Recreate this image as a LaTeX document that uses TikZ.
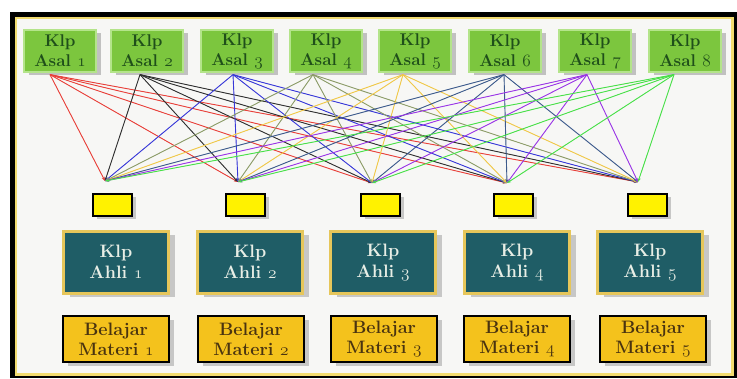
\documentclass[tikz,border=0pt]{standalone}
\usetikzlibrary{shadows,arrows.meta}
\newcommand{\osn}[1]{{\fontencoding{OML}\fontfamily{lmm}\fontseries{b}\fontshape{it}\selectfont #1}}
\definecolor{bgc}{HTML}{F7F7F5}
\definecolor{frameY}{HTML}{F2DC70}
\definecolor{asalfill}{HTML}{7CC63E}
\definecolor{asaledge}{HTML}{B4E48A}
\definecolor{asaltext}{HTML}{1F4F1A}
\definecolor{ahlifill}{HTML}{1F5D66}
\definecolor{ahliedge}{HTML}{E6C65A}
\definecolor{ahlitext}{HTML}{E8EEE6}
\definecolor{smallY}{HTML}{FFF200}
\definecolor{matfill}{HTML}{F4C21C}
\definecolor{mattext}{HTML}{4A3410}
\definecolor{c1}{HTML}{E8403A}
\definecolor{c2}{HTML}{303030}
\definecolor{c3}{HTML}{3838D8}
\definecolor{c4}{HTML}{8C9C68}
\definecolor{c5}{HTML}{F0C848}
\definecolor{c6}{HTML}{3C5A8C}
\definecolor{c7}{HTML}{9A36E6}
\definecolor{c8}{HTML}{48E048}
\tikzset{
  asal/.style={draw=asaledge, line width=1.2pt, fill=asalfill, minimum width=72pt, minimum height=42pt,
    inner sep=0pt, align=center, text=asaltext, font=\fontsize{17}{20}\selectfont\bfseries,
    drop shadow={opacity=0.45, shadow xshift=5pt, shadow yshift=-3pt}},
  smallbox/.style={draw=black, line width=2pt, fill=smallY, minimum width=39pt, minimum height=22pt,
    inner sep=0pt, drop shadow={opacity=0.4, shadow xshift=4pt, shadow yshift=-3pt}},
  ahli/.style={draw=ahliedge, line width=3pt, fill=ahlifill, minimum width=105pt, minimum height=62pt,
    inner sep=0pt, align=center, text=ahlitext, font=\fontsize{18}{21}\selectfont\bfseries,
    drop shadow={opacity=0.4, shadow xshift=6pt, shadow yshift=-4pt}},
  mat/.style={draw=black, line width=2pt, fill=matfill, minimum width=106pt, minimum height=46pt,
    inner sep=0pt, align=center, text=mattext, font=\fontsize{18}{20}\selectfont\bfseries,
    drop shadow={opacity=0.4, shadow xshift=5pt, shadow yshift=-4pt}},
  link/.style={line width=0.9pt, -{Stealth[length=4pt,width=3pt]}},
}
\begin{document}
\begin{tikzpicture}[x=1pt,y=-1pt]
\useasboundingbox (0,0) rectangle (737,378);
\fill[white] (0,0) rectangle (737,378);
% frame
\fill[black] (10,12) rectangle (737,378);
\fill[frameY] (15,17) rectangle (734,376);
\fill[bgc] (17,19) rectangle (731,373);
% top nodes
\node[asal] (a1) at (60,51) {Klp\\Asal \osn{1}};
\node[asal] (a2) at (147,51) {Klp\\Asal \osn{2}};
\node[asal] (a3) at (237,51) {Klp\\Asal \osn{3}};
\node[asal] (a4) at (326,51) {Klp\\Asal \osn{4}};
\node[asal] (a5) at (415,51) {Klp\\Asal \osn{5}};
\node[asal] (a6) at (505,51) {Klp\\Asal \osn{6}};
\node[asal] (a7) at (595,51) {Klp\\Asal \osn{7}};
\node[asal] (a8) at (685,51) {Klp\\Asal \osn{8}};
% small boxes
\node[smallbox] (y1) at (112,205) {};
\node[smallbox] (y2) at (245,205) {};
\node[smallbox] (y3) at (380,205) {};
\node[smallbox] (y4) at (513,205) {};
\node[smallbox] (y5) at (647,205) {};
% expert groups
\node[ahli] (h1) at (116,262) {Klp\\Ahli \osn{1}};
\node[ahli] (h2) at (250,262) {Klp\\Ahli \osn{2}};
\node[ahli] (h3) at (383,262) {Klp\\Ahli \osn{3}};
\node[ahli] (h4) at (517,262) {Klp\\Ahli \osn{4}};
\node[ahli] (h5) at (650,262) {Klp\\Ahli \osn{5}};
% materials
\node[mat] (m1) at (116,339) {Belajar\\Materi \osn{1}};
\node[mat] (m2) at (251,339) {Belajar\\Materi \osn{2}};
\node[mat] (m3) at (384,339) {Belajar\\Materi \osn{3}};
\node[mat] (m4) at (517,339) {Belajar\\Materi \osn{4}};
\node[mat] (m5) at (653,339) {Belajar\\Materi \osn{5}};
% line origins and targets
\coordinate (o1) at ([xshift=-10pt,yshift=-2pt]a1.south);
\coordinate (o2) at ([xshift=-7pt,yshift=-2pt]a2.south);
\coordinate (o3) at ([xshift=-4pt,yshift=-2pt]a3.south);
\coordinate (o4) at ([xshift=-13pt,yshift=-2pt]a4.south);
\coordinate (o5) at ([xshift=-12pt,yshift=-2pt]a5.south);
\coordinate (o6) at ([xshift=-1pt,yshift=-2pt]a6.south);
\coordinate (o7) at ([xshift=-8pt,yshift=-2pt]a7.south);
\coordinate (o8) at ([xshift=-11pt,yshift=-2pt]a8.south);
\coordinate (t1) at ([xshift=-7pt,yshift=12pt]y1.north);
\coordinate (t2) at ([xshift=-7pt,yshift=11pt]y2.north);
\coordinate (t3) at ([xshift=-8pt,yshift=10pt]y3.north);
\coordinate (t4) at ([xshift=-6pt,yshift=10pt]y4.north);
\coordinate (t5) at ([xshift=-9pt,yshift=11pt]y5.north);
\foreach \i/\c in {1/c1,2/c2,3/c3,4/c4,5/c5,6/c6,7/c7,8/c8}{
  \foreach \j in {1,...,5}{
    \draw[link,draw=\c,fill=\c] (o\i) -- (t\j);
  }
}
\end{tikzpicture}
\end{document}
